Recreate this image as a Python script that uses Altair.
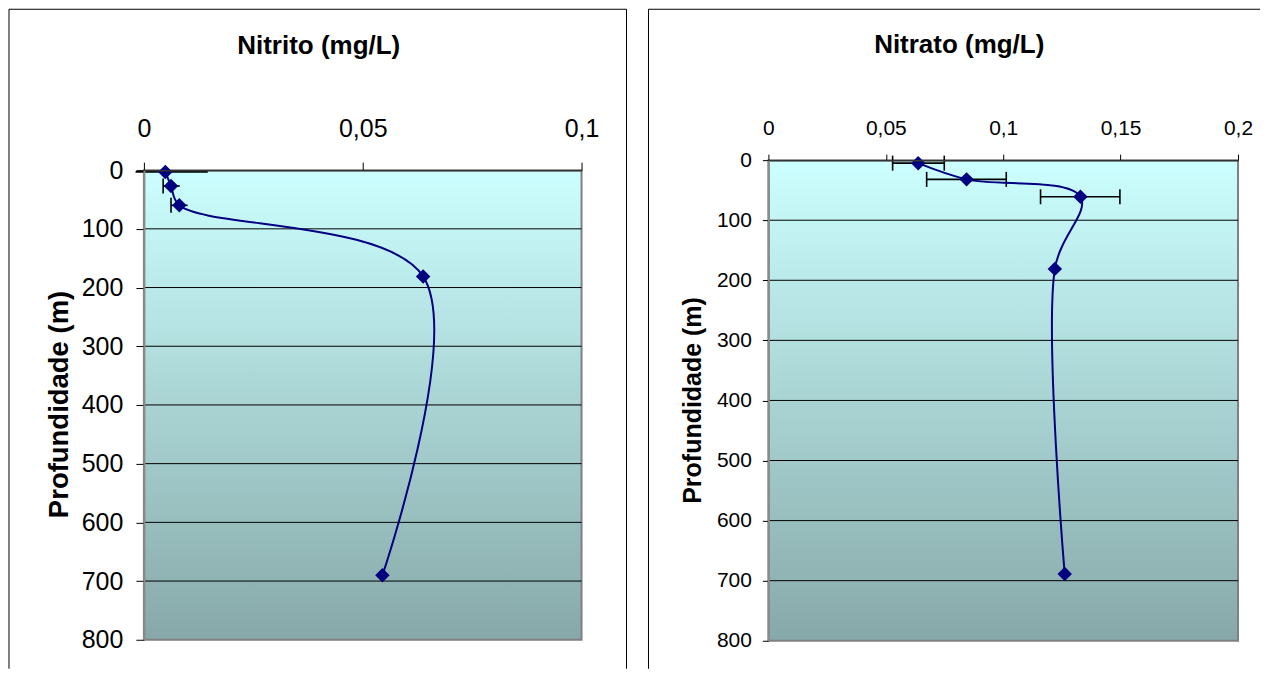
import altair as alt
import pandas as pd

# ---------------- data ----------------
# Nitrito panel
nitrito_depth = [3, 27, 60, 181, 690]
nitrito_value = [0.0049, 0.0062, 0.0081, 0.0638, 0.0545]
nitrito_err_depth = [3, 27, 60]
nitrito_err_lo = [-0.0019, 0.0044, 0.0062]
nitrito_err_hi = [0.0146, 0.0082, 0.0100]
nitrito_cap_depth = [27, 60]
nitrito_cap_value = [0.0044, 0.0062]
nitrito_ticks = [0, 0.05, 0.1]

# Nitrato panel
nitrato_depth = [5, 32, 61, 181, 689]
nitrato_value = [0.0638, 0.0844, 0.1329, 0.1220, 0.1262]
nitrato_err_depth = [5, 32, 61]
nitrato_err_lo = [0.0529, 0.0674, 0.1159]
nitrato_err_hi = [0.0749, 0.1013, 0.1497]
nitrato_ticks = [0, 0.05, 0.1, 0.15, 0.2]

depth_ticks = [0, 100, 200, 300, 400, 500, 600, 700, 800]
grid_depths = [100, 200, 300, 400, 500, 600, 700]

FONT = "Liberation Sans"
NAVY = "#000080"


def panel(title, depth, value, err_depth, err_lo, err_hi, cap_depth, cap_value,
          ticks, W, H, top, fs, title_xy, ytitle_xy, ytitle_fs, x_lp, x_ts,
          y_lp, y_ts, frame_lines):
    xscale = alt.Scale(domain=[ticks[0], ticks[-1]], nice=False, zero=False)
    yscale = alt.Scale(domain=[0, 800], range=[top, H], nice=False, zero=False)
    xaxis = alt.Axis(orient="top", offset=-top, values=ticks,
                     labelExpr="replace(toString(datum.value), '.', ',')",
                     labelFont=FONT, labelFontSize=fs, labelColor="black",
                     labelPadding=x_lp, labelFlush=False, labelOverlap=False,
                     tickSize=x_ts, tickColor="black", tickWidth=1,
                     domainColor="#333333", domainWidth=1.5, grid=False,
                     title=None, zindex=1)
    yaxis = alt.Axis(values=depth_ticks, labelFont=FONT, labelFontSize=fs,
                     labelColor="black", labelPadding=y_lp, labelOverlap=False,
                     tickSize=y_ts, tickColor="black", tickWidth=1,
                     domainColor="#8a8a8a", domainWidth=2, grid=False,
                     title="Profundidade (m)", titleFont=FONT,
                     titleFontSize=ytitle_fs, titleFontWeight="bold",
                     titleColor="black", titleAngle=270, titleAlign="center",
                     titleBaseline="alphabetic", titleX=ytitle_xy[0],
                     titleY=ytitle_xy[1], zindex=1)

    def X(f):
        return alt.X(f, scale=xscale, axis=xaxis)

    def Y(f):
        return alt.Y(f, scale=yscale, axis=yaxis)

    one = alt.Data(values=[{}])
    grad = alt.LinearGradient(
        gradient="linear",
        stops=[alt.GradientStop(color="#CCFFFF", offset=0),
               alt.GradientStop(color="#87A8A8", offset=1)],
        x1=0, x2=0, y1=0, y2=1)

    bg = alt.Chart(one).mark_rect(fill=grad, stroke="#808080", strokeWidth=2).encode(
        x=alt.value(0), x2=alt.value(W), y=alt.value(top), y2=alt.value(H))

    grid = alt.Chart(pd.DataFrame({"depth": grid_depths})).mark_rule(
        color="black", strokeWidth=1).encode(
        y=Y("depth:Q"), x=alt.value(0), x2=alt.value(W))

    err_df = pd.DataFrame({"depth": err_depth, "lo": err_lo, "hi": err_hi})
    err = alt.Chart(err_df).mark_rule(color="black", strokeWidth=1.6).encode(
        x=X("lo:Q"), x2="hi:Q", y=Y("depth:Q"))

    cap_df = pd.DataFrame({"depth": cap_depth, "value": cap_value})
    caps = alt.Chart(cap_df).mark_point(
        shape="M0,-1L0,1", size=225, filled=False, stroke="black",
        strokeWidth=1.6, opacity=1).encode(x=X("value:Q"), y=Y("depth:Q"))

    prof = pd.DataFrame({"depth": depth, "value": value})
    line = alt.Chart(prof).mark_line(color=NAVY, strokeWidth=2,
                                     interpolate="catmull-rom").encode(
        x=X("value:Q"), y=Y("depth:Q"), order="depth:Q")
    pts = alt.Chart(prof).mark_point(shape="diamond", filled=True, size=210,
                                     color=NAVY, opacity=1).encode(
        x=X("value:Q"), y=Y("depth:Q"))

    ttl = alt.Chart(one).mark_text(text=title, font=FONT, fontSize=26,
                                   fontWeight="bold", color="black",
                                   align="center", baseline="alphabetic").encode(
        x=alt.value(title_xy[0]), y=alt.value(title_xy[1]))

    frame = [
        alt.Chart(one).mark_rule(color="black", strokeWidth=1).encode(
            x=alt.value(a), x2=alt.value(c), y=alt.value(b), y2=alt.value(d))
        for (a, b, c, d) in frame_lines
    ]

    return alt.layer(bg, grid, err, caps, line, pts, ttl, *frame).properties(
        width=W, height=H)


# left panel: view origin shared with the right one; plot starts 10px lower
left = panel("Nitrito (mg/L)", nitrito_depth, nitrito_value, nitrito_err_depth,
             nitrito_err_lo, nitrito_err_hi, nitrito_cap_depth, nitrito_cap_value,
             nitrito_ticks, W=438, H=480, top=10, fs=25, title_xy=(175, -106),
             ytitle_xy=(-76, 244), ytitle_fs=27.5, x_lp=21, x_ts=8, y_lp=13,
             y_ts=8,
             frame_lines=[(-135, -151, -135, 509), (-135, -151, 483, -151),
                          (483, -151, 483, 509)])

nitrato_cap_depth = nitrato_err_depth + nitrato_err_depth
nitrato_cap_value = nitrato_err_lo + nitrato_err_hi
right = panel("Nitrato (mg/L)", nitrato_depth, nitrato_value, nitrato_err_depth,
              nitrato_err_lo, nitrato_err_hi, nitrato_cap_depth, nitrato_cap_value,
              nitrato_ticks, W=470, H=481, top=0, fs=21, title_xy=(191, -107),
              ytitle_xy=(-68, 240), ytitle_fs=25, x_lp=16, x_ts=6, y_lp=11,
              y_ts=6,
              frame_lines=[(-120, -151, -120, 509), (-120, -151, 492, -151)])

chart = alt.hconcat(left, right, spacing=20).properties(padding=0).configure_view(
    strokeWidth=0)

chart.save("out.html", embed_options={"renderer": "svg", "actions": False})
